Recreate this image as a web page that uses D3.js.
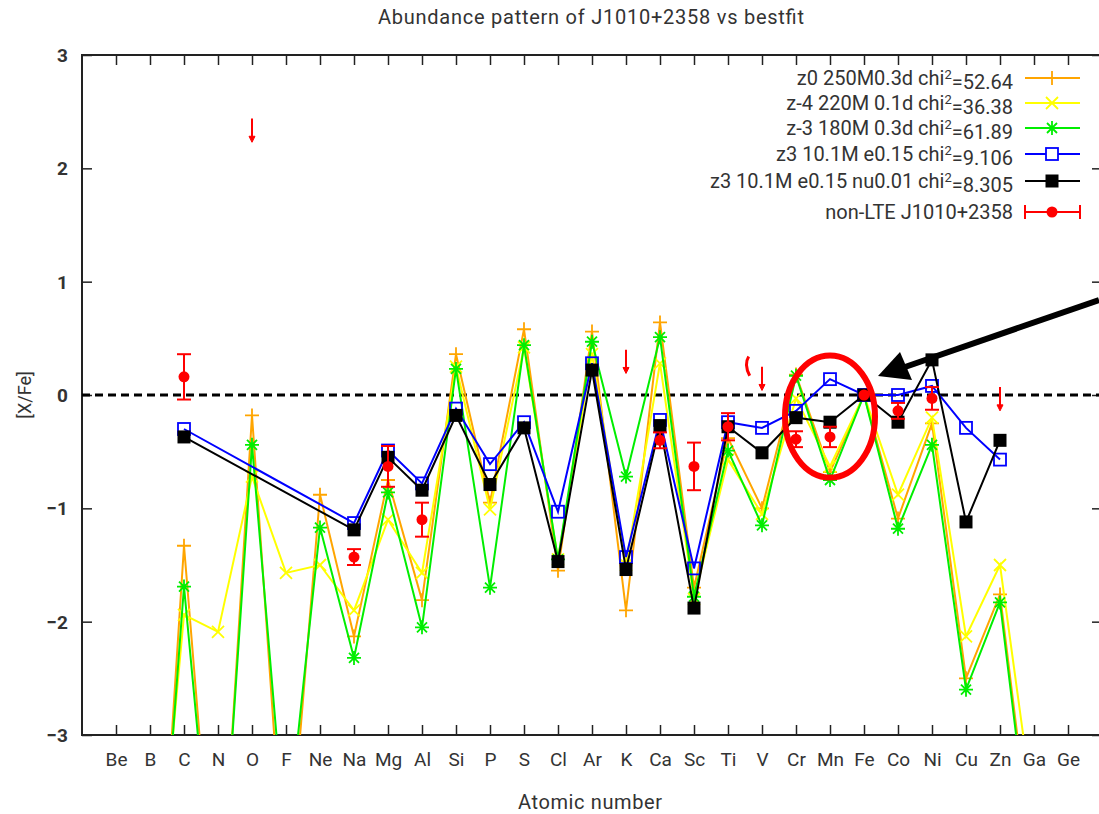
<!DOCTYPE html>
<html><head><meta charset="utf-8">
<script src="https://cdn.jsdelivr.net/npm/d3@7"></script>
<style>body{margin:0;background:#fff}svg{display:block}text{font-family:Roboto,"Liberation Sans",sans-serif;fill:#333}</style>
</head><body><svg id="c" width="1099" height="814"></svg>
<script>
// ---------- data ----------
const elements = ["Be","B","C","N","O","F","Ne","Na","Mg","Al","Si","P","S","Cl","Ar","K","Ca","Sc","Ti","V","Cr","Mn","Fe","Co","Ni","Cu","Zn","Ga","Ge"];
const elementZ = d3.range(4, 33);
const yTicks = [-3,-2,-1,0,1,2,3];

const modelZ = [5,6,7,8,9,10,11,12,13,14,15,16,17,18,19,20,21,22,23,24,25,26,27,28,29,30,31];
const orangeVals = [-6.0,-1.33,-5.0,-0.18,-4.5,-0.88,-2.13,-0.75,-1.81,0.36,-0.95,0.58,-1.55,0.56,-1.90,0.64,-1.70,-0.38,-1.00,0.18,-0.68,0,-1.09,-0.25,-2.50,-1.76,-4.2];
const yellowVals = [-5.2,-1.94,-2.09,-0.72,-1.57,-1.50,-1.90,-1.10,-1.57,0.25,-1.01,0.42,-1.45,0.36,-1.50,0.28,-1.80,-0.57,-1.05,-0.03,-0.63,0,-0.88,-0.20,-2.13,-1.50,-3.7];
const greenVals  = [-5.7,-1.69,-4.9,-0.44,-4.0,-1.17,-2.32,-0.86,-2.05,0.23,-1.70,0.44,-1.45,0.47,-0.72,0.51,-1.78,-0.49,-1.15,0.17,-0.75,0,-1.18,-0.44,-2.60,-1.83,-4.3];

const fitZ = [6,11,12,13,14,15,16,17,18,19,20,21,22,23,24,25,26,27,28,29,30];
const blueVals  = [-0.30,-1.13,-0.49,-0.78,-0.12,-0.61,-0.24,-1.03,0.28,-1.43,-0.22,-1.53,-0.24,-0.29,-0.14,0.14,0,0.00,0.08,-0.29,-0.57];
const blackVals = [-0.37,-1.19,-0.55,-0.84,-0.18,-0.79,-0.29,-1.47,0.22,-1.54,-0.27,-1.88,-0.28,-0.51,-0.20,-0.24,0,-0.24,0.31,-1.12,-0.40];

const obsZ   = [6,11,12,13,20,21,22,24,25,26,27,28];
const obsVal = [0.16,-1.43,-0.63,-1.10,-0.40,-0.63,-0.28,-0.39,-0.37,0,-0.14,-0.03];
const obsErr = [0.20,0.07,0.18,0.15,0.07,0.21,0.12,0.07,0.09,0,0.07,0.10];
const limZ   = [8,19,23,30];
const limVal = [2.44,0.40,0.25,0.07];

const legendLabels = [
  ["z0 250M0.3d chi","2","=52.64"],
  ["z-4 220M 0.1d chi","2","=36.38"],
  ["z-3 180M 0.3d chi","2","=61.89"],
  ["z3 10.1M e0.15 chi","2","=9.106"],
  ["z3 10.1M e0.15 nu0.01 chi","2","=8.305"],
  ["non-LTE J1010+2358","",""]
];

// ---------- layout ----------
const svg = d3.select("#c");
const L = 82, R = 1102, T = 55, B = 735;
const x = d3.scaleLinear().domain([3,33]).range([L,R]);
const y = d3.scaleLinear().domain([-3,3]).range([B,T]);

svg.append("defs").append("clipPath").attr("id","clip")
  .append("rect").attr("x",L).attr("y",T).attr("width",R-L).attr("height",B-T);

// title / labels
svg.append("text").attr("x",591).attr("y",24).attr("text-anchor","middle").attr("font-size",20).attr("textLength",426).text("Abundance pattern of J1010+2358 vs bestfit");
svg.append("text").attr("transform","translate(31,395) rotate(-90)").attr("text-anchor","middle").attr("font-size",18).text("[X/Fe]");
svg.append("text").attr("x",590).attr("y",809).attr("text-anchor","middle").attr("font-size",20).attr("textLength",144).text("Atomic number");

// axes
const gx = svg.append("g").attr("transform",`translate(0,${B})`)
  .call(d3.axisBottom(x).tickValues(elementZ).tickFormat((d,i)=>elements[i]).tickSizeInner(-10).tickSizeOuter(0).tickPadding(18));
const gxt = svg.append("g").attr("transform",`translate(0,${T})`)
  .call(d3.axisTop(x).tickValues(elementZ).tickFormat("").tickSizeInner(-10).tickSizeOuter(0));
const gy = svg.append("g").attr("transform",`translate(${L},0)`)
  .call(d3.axisLeft(y).tickValues(yTicks).tickFormat(d3.format("d")).tickSizeInner(-10).tickSizeOuter(0).tickPadding(14));
const gyr = svg.append("g").attr("transform",`translate(${R},0)`)
  .call(d3.axisRight(y).tickValues(yTicks).tickFormat("").tickSizeInner(-10).tickSizeOuter(0));
[gx,gxt,gy,gyr].forEach(g=>{g.select(".domain").remove();g.selectAll("line").attr("stroke","#222").attr("stroke-width",1.5);});
gx.selectAll("text").attr("font-size",19).attr("fill","#333").style("font-family","Roboto, sans-serif");
gy.selectAll("text").attr("font-size",19).attr("font-weight","bold").attr("fill","#333").attr("dy","0.35em");
svg.append("rect").attr("x",L).attr("y",T).attr("width",R-L).attr("height",B-T).attr("fill","none").attr("stroke","#222").attr("stroke-width",2);

// zero line
svg.append("line").attr("x1",L).attr("x2",R).attr("y1",y(0)).attr("y2",y(0))
  .attr("stroke","#000").attr("stroke-width",3).attr("stroke-dasharray","8,5");

const plot = svg.append("g").attr("clip-path","url(#clip)");
const line = d3.line().x(d=>x(d[0])).y(d=>y(d[1]));

const sym = {
  plus: "M-7,0H7M0,-7V7",
  cross: "M-6,-6L6,6M-6,6L6,-6",
  star: "M-7,0H7M0,-7V7M-5,-5L5,5M-5,5L5,-5"
};

function drawSeries(zs, vals, color, marker){
  const pts = zs.map((z,i)=>[z,vals[i]]);
  plot.append("path").datum(pts).attr("d",line).attr("fill","none").attr("stroke",color).attr("stroke-width",2);
  const g = plot.append("g");
  pts.forEach(p=>{
    const cx = x(p[0]), cy = y(p[1]);
    if (marker==="osq") g.append("rect").attr("x",cx-6).attr("y",cy-6).attr("width",12).attr("height",12).attr("fill","none").attr("stroke",color).attr("stroke-width",1.8);
    else if (marker==="fsq") g.append("rect").attr("x",cx-6.5).attr("y",cy-6.5).attr("width",13).attr("height",13).attr("fill",color);
    else g.append("path").attr("d",sym[marker]).attr("transform",`translate(${cx},${cy})`).attr("stroke",color).attr("stroke-width",1.8).attr("fill","none");
  });
}
drawSeries(modelZ, orangeVals, "#ffa500", "plus");
drawSeries(modelZ, yellowVals, "#ffff00", "cross");
drawSeries(modelZ, greenVals, "#00ee00", "star");
drawSeries(fitZ, blueVals, "#0000ff", "osq");
drawSeries(fitZ, blackVals, "#000000", "fsq");

// observations
const red = "#ff0000";
obsZ.forEach((z,i)=>{
  const cx = x(z), v = obsVal[i], e = obsErr[i];
  if (e>0){
    plot.append("line").attr("x1",cx).attr("x2",cx).attr("y1",y(v+e)).attr("y2",y(v-e)).attr("stroke",red).attr("stroke-width",2);
    [v+e,v-e].forEach(w=>plot.append("line").attr("x1",cx-7).attr("x2",cx+7).attr("y1",y(w)).attr("y2",y(w)).attr("stroke",red).attr("stroke-width",2));
  }
  plot.append("circle").attr("cx",cx).attr("cy",y(v)).attr("r",5.5).attr("fill",red);
});
limZ.forEach((z,i)=>{
  const cx = x(z), y0 = y(limVal[i]), y1 = y(limVal[i]-0.21);
  plot.append("line").attr("x1",cx).attr("x2",cx).attr("y1",y0).attr("y2",y1-4).attr("stroke",red).attr("stroke-width",2);
  plot.append("path").attr("d",`M${cx-3},${y1-6}L${cx},${y1}L${cx+3},${y1-6}Z`).attr("fill",red).attr("stroke",red).attr("stroke-width",1);
});
// small red stray mark near V
svg.append("path").attr("d",`M${x(22.55)+2},${y(0.34)} Q${x(22.55)-3},${y(0.27)} ${x(22.55)+3},${y(0.17)}`)
  .attr("fill","none").attr("stroke",red).attr("stroke-width",3);

// legend
const lg = svg.append("g");
const colors = ["#ffa500","#ffff00","#00ee00","#0000ff","#000000",red];
const markers = ["plus","cross","star","osq","fsq","obs"];
const rowY = [78,103,128,154,181,212];
legendLabels.forEach((lab,i)=>{
  const t = lg.append("text").attr("x",1013).attr("y",rowY[i]).attr("dy","0.35em").attr("text-anchor","end").attr("font-size",20);
  t.append("tspan").text(lab[0]);
  if (lab[1]) { t.append("tspan").attr("font-size",13).attr("dy","-0.5em").text(lab[1]); t.append("tspan").attr("dy","0.5em").text(lab[2]); }
  const cy = rowY[i], c = colors[i], m = markers[i];
  lg.append("line").attr("x1",1025).attr("x2",1080).attr("y1",cy).attr("y2",cy).attr("stroke",c).attr("stroke-width",2);
  if (m==="osq") lg.append("rect").attr("x",1046).attr("y",cy-6).attr("width",12).attr("height",12).attr("fill","#fff").attr("stroke",c).attr("stroke-width",1.8);
  else if (m==="fsq") lg.append("rect").attr("x",1045.5).attr("y",cy-6.5).attr("width",13).attr("height",13).attr("fill",c);
  else if (m==="obs"){
    [1025,1080].forEach(xx=>lg.append("line").attr("x1",xx).attr("x2",xx).attr("y1",cy-7).attr("y2",cy+7).attr("stroke",c).attr("stroke-width",2));
    lg.append("circle").attr("cx",1052).attr("cy",cy).attr("r",5.5).attr("fill",c);
  } else lg.append("path").attr("d",sym[m]).attr("transform",`translate(1052,${cy})`).attr("stroke",c).attr("stroke-width",1.8).attr("fill","none");
});

// annotations: red ellipse and black arrow
svg.append("ellipse").attr("cx",x(25)).attr("cy",y(-0.19)).attr("rx",45).attr("ry",61)
  .attr("fill","none").attr("stroke",red).attr("stroke-width",6);
svg.append("line").attr("x1",1099).attr("y1",300).attr("x2",905).attr("y2",367).attr("stroke","#000").attr("stroke-width",6);
svg.append("path").attr("d","M878,376 L900,352 L912,380 Z").attr("fill","#000");
</script></body></html>
